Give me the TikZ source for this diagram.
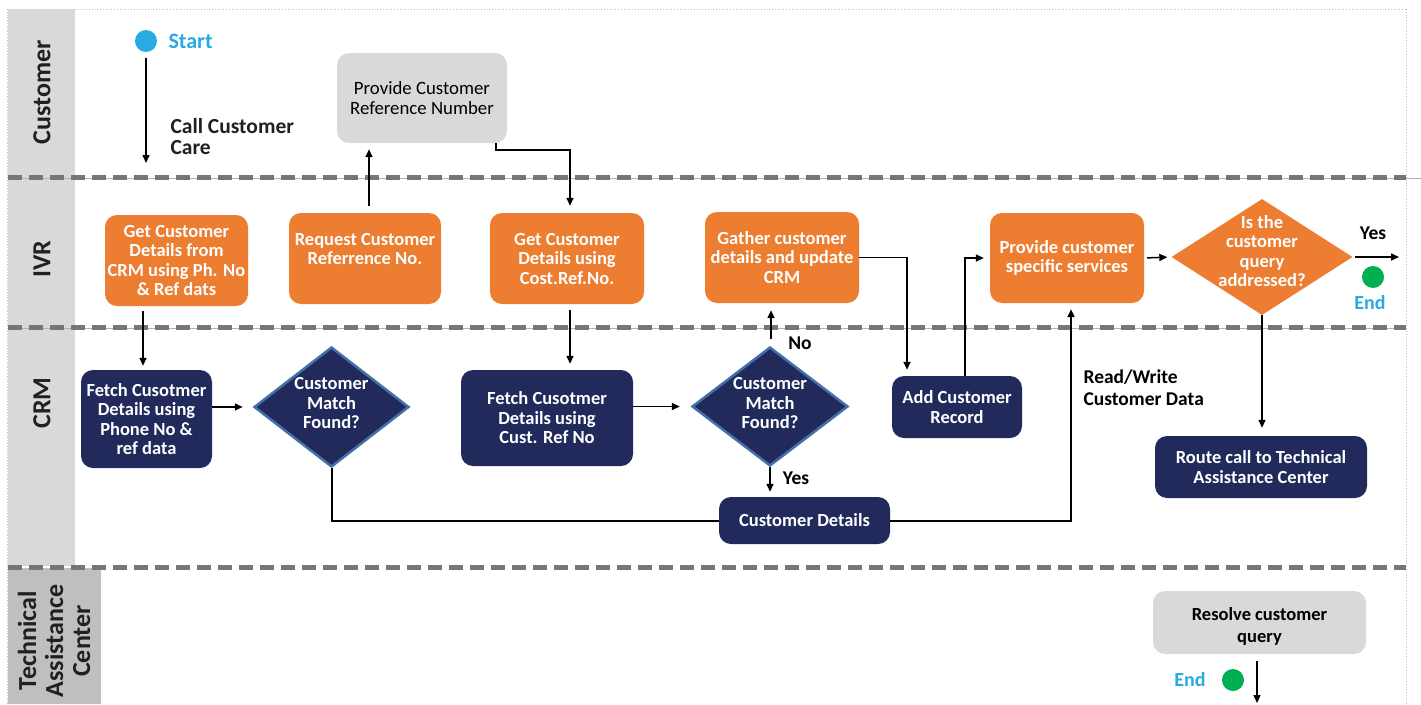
\documentclass[tikz,border=0pt]{standalone}
\usepackage{fontspec}
\setmainfont{Carlito}
\usetikzlibrary{shapes.geometric,arrows.meta,calc}
\definecolor{orng}{HTML}{ED7D31}
\definecolor{navy}{HTML}{212A5B}
\definecolor{dblue}{HTML}{4470A8}
\definecolor{boxgray}{HTML}{D9D9D9}
\definecolor{lanegray}{HTML}{D9D9D9}
\definecolor{tacgray}{HTML}{BFBFBF}
\definecolor{sepgray}{HTML}{767676}
\definecolor{cyanb}{HTML}{29ABE2}
\definecolor{greenend}{HTML}{00B050}
\definecolor{lanetext}{HTML}{231F20}
\definecolor{pinkline}{HTML}{C9A3B8}
\tikzset{
  boxfont/.style={font=\fontsize{18.5}{19.5}\selectfont\bfseries},
  box/.style={rounded corners=12pt, align=center, inner sep=1pt, boxfont},
  obox/.style={box, fill=orng, text=white},
  nbox/.style={box, fill=navy, text=white},
  gbox/.style={box, fill=boxgray, text=black},
  ndia/.style={diamond, fill=navy, draw=dblue, line width=2.5pt, inner sep=0pt},
  odia/.style={diamond, fill=orng, inner sep=0pt},
  diatxt/.style={text=white, align=center, inner sep=0pt, boxfont},
  arr/.style={draw, line width=1.5pt, -{Triangle[length=8pt,width=7pt]}},
  plain/.style={draw, line width=2pt},
  lbl/.style={font=\fontsize{19.5}{22}\selectfont\bfseries, text=black, align=left},
  lanelbl/.style={rotate=90, font=\fontsize{26}{27}\selectfont\bfseries, text=lanetext, align=center},
  sep/.style={draw=sepgray, line width=5pt, dash pattern=on 14pt off 7pt},
  dot/.style={circle, minimum size=22pt, inner sep=0pt},
}
\begin{document}
\begin{tikzpicture}[x=1pt, y=-1pt]
\useasboundingbox (0,0) rectangle (1421,704);
\fill[white] (0,0) rectangle (1421,704);
% lane label columns
\fill[lanegray] (8,9) rectangle (75,566);
\fill[tacgray] (8,568) rectangle (101,704);
% frame
\draw[gray!50, line width=0.8pt, dotted] (75,9) -- (1406,9);
\draw[gray!50, line width=0.8pt, dotted] (7,9) -- (7,704);
\draw[gray!50, line width=0.8pt, dotted] (1406,9) -- (1406,704);
% separators
\draw[pinkline, line width=0.6pt] (8,178) -- (1421,178);
\draw[pinkline, line width=0.6pt] (8,328) -- (1406,328);
\draw[sep] (8,177) -- (1406,177);
\draw[sep] (8,327) -- (1406,327);
\draw[sep] (8,567) -- (1406,567);
% lane labels
\node[lanelbl] (lcust) at (42,92) {Customer};
\node[lanelbl] (livr) at (42,259) {IVR};
\node[lanelbl] (lcrm) at (42,403) {CRM};
\node[lanelbl] (ltac) at (54,641) {Technical\\Assistance\\Center};

% Customer lane
\node[dot, fill=cyanb] (start) at (146,41) {};
\node[anchor=west, text=cyanb, font=\fontsize{22}{24}\selectfont\bfseries] (starttxt) at (165,41) {Start};
\coordinate (callend) at (146,163);
\node[anchor=west, font=\fontsize{21.5}{21}\selectfont\bfseries, text=lanetext, align=left] (calltxt) at (167,137) {Call Customer\\Care};
\node[gbox, font=\fontsize{18.8}{19.5}\selectfont, minimum width=170pt, minimum height=90pt] (provide) at (422,98) {Provide Customer\\Reference Number};

% IVR lane
\node[obox, minimum width=143pt, minimum height=91pt] (getcrm) at (176.5,260.5) {Get Customer\\Details from\\CRM using Ph. No\\\& Ref dats};
\node[obox, minimum width=152pt, minimum height=91pt] (request) at (365,258.5) {Request Customer\\Referrence No.\\\mbox{}};
\node[obox, minimum width=154pt, minimum height=91pt] (getref) at (567,258.5) {Get Customer\\Details using\\Cost.Ref.No.};
\node[obox, minimum width=154pt, minimum height=91pt] (gather) at (782,257.5) {Gather customer\\details and update\\CRM};
\node[obox, minimum width=154pt, minimum height=90pt] (provserv) at (1067,258) {Provide customer\\specific services};
\node[odia, minimum width=181pt, minimum height=116pt] (query) at (1262,257) {};
\node[diatxt] (querytxt) at (1262,251) {Is the\\customer\\query\\addressed?};
\coordinate (qyes) at (1399,257);
\node[lbl] (yes2) at (1373,233) {Yes};
\node[dot, fill=greenend] (end1) at (1373,277) {};
\node[text=cyanb, font=\fontsize{20}{22}\selectfont\bfseries] (end1txt) at (1370,303) {End};

% CRM lane
\node[nbox, minimum width=131pt, minimum height=98pt] (fetch1) at (146.5,419) {Fetch Cusotmer\\Details using\\Phone No \&\\ref data};
\node[ndia, minimum width=155pt, minimum height=120pt] (d1) at (331.5,407) {};
\node[diatxt] (d1txt) at (331.5,403) {Customer\\Match\\Found?};
\node[nbox, minimum width=172pt, minimum height=96pt] (fetch2) at (547,418) {Fetch Cusotmer\\Details using\\Cust. Ref No};
\node[ndia, minimum width=156pt, minimum height=119pt] (d2) at (770,406.5) {};
\node[diatxt] (d2txt) at (770,403) {Customer\\Match\\Found?};
\node[nbox, minimum width=130pt, minimum height=62pt] (addrec) at (957,407) {Add Customer\\Record};
\node[nbox, minimum width=171pt, minimum height=47pt] (cdetails) at (804.5,520.5) {Customer Details};
\node[nbox, minimum width=212pt, minimum height=62pt] (route) at (1261,467) {Route call to Technical\\Assistance Center};
\node[lbl, anchor=west] (rw) at (1080,388) {Read/Write\\Customer Data};
\node[lbl] (nolbl) at (800,343) {No};
\node[lbl] (yeslbl) at (796,478) {Yes};

% TAC lane
\node[gbox, minimum width=213pt, minimum height=63pt] (resolve) at (1259.5,622.5) {};
\node[align=center, text=black, font=\fontsize{18.5}{22}\selectfont\bfseries] (resolvetxt) at (1259.5,626) {Resolve customer\\query};
\node[dot, fill=greenend] (end2) at (1233,680) {};
\node[text=cyanb, font=\fontsize{20}{22}\selectfont\bfseries] (end2txt) at (1190,680) {End};
\coordinate (tacend) at (1257,703);

% connectors
\draw[arr, shorten <=6pt] (start.south) -- (callend);
\draw[arr, shorten <=7pt, shorten >=6pt] ([xshift=4pt]request.north) -- ([xshift=4pt]request.north |- provide.south);
\draw[arr, shorten >=7pt] ([xshift=-11pt]provide.south east) -- ++(0,7) -| ([xshift=3pt]getref.north);
\draw[arr, shorten <=5pt, shorten >=4pt] (getcrm.south -| {(143,0)}) -- (fetch1.north -| {(143,0)});
\draw[arr, shorten >=10pt] (fetch1.east |- d1.west) -- (d1.west);
\draw[plain] (d1.south) |- (cdetails.west);
\draw[plain, -{Triangle[length=8pt,width=7pt]}, shorten >=6pt] (cdetails.east) -| ([xshift=4pt]provserv.south);
\draw[arr, shorten <=6pt, shorten >=6pt] ([xshift=3pt]getref.south) -- ([xshift=3pt]getref.south |- fetch2.north);
\draw[arr, shorten >=11pt] (fetch2.east |- d2.west) -- (d2.west);
\draw[arr, shorten <=7pt, shorten >=7pt] ([xshift=1pt]d2.north) -- ([xshift=1pt]d2.north |- gather.south);
\draw[arr, shorten >=5pt] (d2.south) -- (d2.south |- cdetails.north);
\draw[arr, shorten >=6pt] (gather.east) -| ([xshift=-50pt]addrec.north);
\draw[arr, shorten >=6pt] ([xshift=8pt]addrec.north) |- (provserv.west);
\draw[arr, shorten <=3pt, shorten >=4pt] (provserv.east) -- (query.west);
\draw[arr, shorten <=2pt] (query.east) -- (qyes);
\draw[arr, shorten >=8pt] (query.south) -- (query.south |- route.north);
\draw[arr, shorten <=7pt] (resolve.south -| tacend) -- (tacend);
\end{tikzpicture}
\end{document}
